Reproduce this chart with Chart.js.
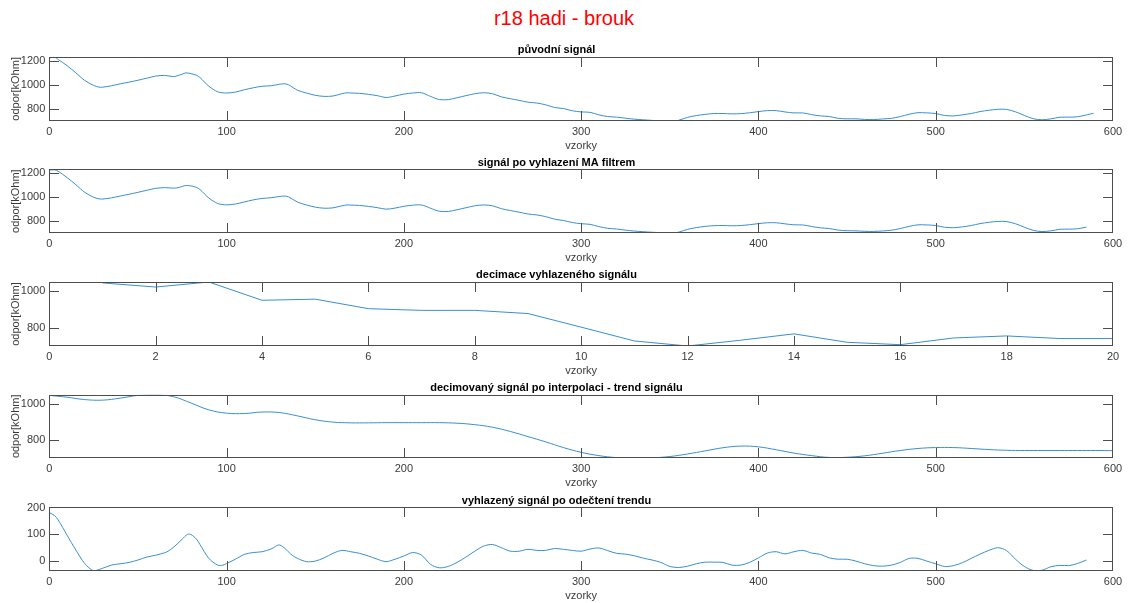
<!DOCTYPE html>
<html>
<head>
<meta charset="utf-8">
<title>r18 hadi - brouk</title>
<script src="https://cdn.jsdelivr.net/npm/chart.js@4.4.1/dist/chart.umd.min.js"></script>
<style>
  html, body { margin: 0; padding: 0; background: #fff; width: 1128px; height: 603px; overflow: hidden; }
  #fig { position: relative; width: 1128px; height: 603px; }
  #suptitle { position: absolute; left: 0; top: 6px; width: 1128px; text-align: center;
              font: 20px "Liberation Sans", Arial, sans-serif; color: #ff0000; line-height: 24px; }
  .ax { position: absolute; left: 0; width: 1128px; }
</style>
</head>
<body>
<div id="fig"><div id="suptitle">r18 hadi - brouk</div></div>
<script>
// ---- data -------------------------------------------------------------
// original signal (sample index / resistance in kOhm)
const rawX = [0,3,5,10,15,20,25,28,30,35,40,45,50,55,60,65,70,72,75,77,80,83,85,90,95,100,105,110,115,120,125,130,133,135,140,145,150,155,160,165,168,170,175,180,185,190,195,200,205,210,215,220,225,230,235,240,245,250,255,260,265,270,275,280,285,290,295,300,305,310,315,320,325,330,335,340,345,350,353,355,360,365,370,375,380,385,390,395,400,405,410,415,420,425,430,435,440,445,450,455,460,465,470,475,480,485,490,495,500,505,510,515,520,525,530,535,540,545,550,555,560,565,570,575,580,585,589];
const rawY = [1222,1228,1210,1159,1099,1036,995,981,980,992,1008,1022,1038,1055,1072,1078,1068,1074,1088,1099,1092,1079,1060,988,942,932,940,959,975,988,992,1005,1008,1000,955,932,913,904,907,926,934,932,929,921,910,895,907,923,932,934,904,878,877,893,910,926,934,926,900,885,871,856,849,834,812,803,785,775,772,751,737,732,723,715,710,705,701,700,701,706,730,745,755,762,762,759,761,768,778,786,786,775,767,767,753,742,737,722,718,718,713,712,717,722,737,756,769,767,762,746,742,751,762,778,789,797,796,776,746,719,710,718,731,732,735,750,764];

// signal after moving-average smoothing
const smoothX = [0,3,5,10,15,20,25,28,30,35,40,45,50,55,60,65,70,72,75,77,80,83,85,90,95,100,105,110,115,120,125,130,133,135,140,145,150,155,160,165,168,170,175,180,185,190,195,200,205,210,215,220,225,230,235,240,245,250,255,260,265,270,275,280,285,290,295,300,305,310,315,320,325,330,335,340,345,350,353,355,360,365,370,375,380,385,390,395,400,405,410,415,420,425,430,435,440,445,450,455,460,465,470,475,480,485,490,495,500,505,510,515,520,525,530,535,540,545,550,555,560,565,570,575,580,585];
const smoothY = [1222,1224,1212,1160,1100,1037,996,983,981,991,1006,1021,1037,1054,1070,1076,1072,1074,1086,1094,1090,1078,1060,990,944,933,940,957,974,986,992,1003,1006,999,956,932,914,905,908,925,932,931,928,920,910,897,906,921,930,932,905,880,878,892,909,925,932,925,901,886,872,857,849,835,814,803,786,776,771,752,738,732,723,715,710,705,702,700,701,706,729,744,754,760,761,759,761,768,777,784,784,775,767,766,753,742,736,723,718,717,713,712,716,722,736,754,767,766,761,747,743,750,761,777,788,795,794,776,747,721,711,717,730,731,734,748];

// decimated smoothed signal
const decX = [1,2,3,4,5,6,7,8,9,10,11,12,13,14,15,16,17,18,19,20];
const decY = [1042,1020,1047,949,955,904,895,895,878,805,731,704,735,769,724,711,747,758,744,744];

// interpolated decimated signal (trend)
const trendX = [0,10,20,30,40,50,60,70,80,90,100,110,120,130,140,150,160,170,180,190,200,210,220,230,240,250,260,270,280,290,300,310,320,330,340,350,360,370,380,390,400,410,420,430,440,450,460,470,480,490,500,510,520,530,540,550,560,570,580,590,600];
const trendY = [1045,1035,1022,1019,1030,1045,1049,1038,1003,966,948,946,954,951,933,912,899,895,895,896,896,896,896,893,885,871,848,820,791,760,734,716,705,703,704,711,725,742,759,768,764,748,730,716,706,707,715,729,744,755,760,760,755,749,745,744,744,744,744,744,743];

// smoothed signal with the trend subtracted
const detX = [0,3,5,10,15,20,25,30,35,40,45,50,55,60,65,67,70,75,78,80,83,85,90,95,98,100,105,110,115,120,125,130,137,140,145,150,155,160,165,170,175,180,185,190,195,200,205,210,215,220,225,230,235,240,245,250,255,260,265,270,275,280,285,290,295,300,305,310,315,320,325,330,335,340,345,350,355,360,365,370,375,380,385,390,395,400,405,410,415,420,425,430,435,440,445,450,455,460,465,470,475,480,485,490,495,500,505,510,515,520,525,530,535,540,545,550,555,560,565,570,575,580,585];
const detY = [181,170,154,97,41,-9,-36,-27,-15,-10,-5,4,15,22,31,37,51,82,100,99,82,62,10,-15,-15,-9,7,25,32,35,45,60,22,10,-2,0,12,29,40,35,29,19,7,-2,7,19,32,22,-12,-25,-20,-5,15,37,56,62,50,37,37,44,40,40,47,44,40,37,45,49,39,29,26,20,11,4,-5,-20,-24,-19,-10,-4,-4,-5,-15,-15,-5,12,30,35,27,35,40,30,25,12,7,7,0,-10,-17,-19,-15,-5,10,10,0,-10,-20,-17,-6,10,26,40,50,39,7,-20,-35,-34,-21,-16,-17,-9,4];

// axis ticks
const sampleTicks = [0,100,200,300,400,500,600];
const decTicks = [0,2,4,6,8,10,12,14,16,18,20];
const resistanceTicks = [800,1000,1200];
const trendTicks = [800,1000];
const detrendTicks = [0,100,200];

// ---- layout & style ---------------------------------------------------
const FONT = '"Liberation Sans", Arial, sans-serif';
const PLOT_LEFT = 49.3, PLOT_RIGHT = 1113;
const FIRST_TOP = 56.7, PITCH = 112.65, PLOT_H = 63.8;
const TITLE_SPACE = 20, XAXIS_SPACE = 32, TICK_LEN = 9.5;
const TITLE_LINE = 13.2;
const LINE_COLOR = '#3a8fd0';
const AXIS_COLOR = '#4d4d4d';
const TICK_TEXT = '#3a3a3a';

// MATLAB-style box with inward ticks on all four sides
const boxTicks = {
  id: 'boxTicks',
  afterDraw(chart) {
    const { ctx, chartArea: a, scales } = chart;
    const L = Math.round(a.left) + 0.5, R = Math.round(a.right) - 0.5;
    const T = Math.round(a.top) + 0.5, B = Math.round(a.bottom) - 0.5;
    ctx.save();
    ctx.strokeStyle = AXIS_COLOR;
    ctx.lineWidth = 1;
    ctx.beginPath();
    scales.x.ticks.forEach(t => {
      const px = Math.round(scales.x.getPixelForValue(t.value)) + 0.5;
      if (px <= L + 1 || px >= R - 1) return;
      ctx.moveTo(px, B); ctx.lineTo(px, B - TICK_LEN);
      ctx.moveTo(px, T); ctx.lineTo(px, T + TICK_LEN);
    });
    scales.y.ticks.forEach(t => {
      const py = Math.round(scales.y.getPixelForValue(t.value)) + 0.5;
      if (py <= T + 1 || py >= B - 1) return;
      ctx.moveTo(L, py); ctx.lineTo(L + TICK_LEN, py);
      ctx.moveTo(R, py); ctx.lineTo(R - TICK_LEN, py);
    });
    ctx.stroke();
    ctx.strokeRect(L, T, R - L, B - T);
    ctx.restore();
  }
};

const fig = document.getElementById('fig');

function subplot(idx, cfg) {
  const top = FIRST_TOP + idx * PITCH;
  // keep the canvas on whole pixels; the fractional part goes into the title block
  const divTop = Math.floor(top - TITLE_SPACE);
  const headBlock = top - divTop;
  const div = document.createElement('div');
  div.className = 'ax';
  div.style.top = divTop + 'px';
  div.style.height = Math.round(headBlock + PLOT_H + XAXIS_SPACE) + 'px';
  const cv = document.createElement('canvas');
  div.appendChild(cv);
  fig.appendChild(div);

  new Chart(cv, {
    type: 'line',
    data: {
      datasets: [{
        data: cfg.x.map((x, i) => ({ x, y: cfg.y[i] })),
        borderColor: LINE_COLOR,
        borderWidth: 1,
        pointRadius: 0,
        tension: cfg.tension,
        fill: false
      }]
    },
    options: {
      responsive: true,
      maintainAspectRatio: false,
      animation: false,
      events: [],
      layout: { padding: { left: 0, right: 1128 - PLOT_RIGHT, top: 0, bottom: 0 } },
      plugins: {
        legend: { display: false },
        tooltip: { enabled: false },
        title: {
          display: true,
          text: cfg.title,
          color: '#000',
          font: { family: FONT, size: 11, weight: 'bold', lineHeight: 1.2 },
          padding: { top: headBlock - TITLE_LINE - 0.1, bottom: 0.1 }
        }
      },
      scales: {
        x: {
          type: 'linear',
          min: cfg.xmin,
          max: cfg.xmax,
          afterBuildTicks: s => { s.ticks = cfg.xticks.map(v => ({ value: v })); },
          afterFit: s => { s.height = XAXIS_SPACE; },
          grid: { display: false, drawTicks: false },
          border: { display: false },
          ticks: {
            color: TICK_TEXT, font: { family: FONT, size: 11 }, padding: 4,
            maxRotation: 0, autoSkip: false, callback: v => String(v)
          },
          title: {
            display: true, text: 'vzorky', color: TICK_TEXT,
            font: { family: FONT, size: 11 }, padding: { top: 0, bottom: 0 }
          }
        },
        y: {
          type: 'linear',
          min: cfg.ymin,
          max: cfg.ymax,
          afterBuildTicks: s => { s.ticks = cfg.yticks.map(v => ({ value: v })); },
          afterFit: s => { s.width = PLOT_LEFT; },
          grid: { display: false, drawTicks: false },
          border: { display: false },
          ticks: {
            color: TICK_TEXT, font: { family: FONT, size: 11 }, padding: 4,
            autoSkip: false, callback: v => String(v)
          },
          title: {
            display: !!cfg.ylabel, text: cfg.ylabel || '', color: TICK_TEXT,
            font: { family: FONT, size: 11 }, padding: { top: 9, bottom: 0 }
          }
        }
      }
    },
    plugins: [boxTicks]
  });
}

subplot(0, { title: 'původní signál', x: rawX, y: rawY, tension: 0.3,
  xmin: 0, xmax: 600, xticks: sampleTicks, ymin: 700, ymax: 1233, yticks: resistanceTicks, ylabel: 'odpor[kOhm]' });
subplot(1, { title: 'signál po vyhlazení MA filtrem', x: smoothX, y: smoothY, tension: 0.3,
  xmin: 0, xmax: 600, xticks: sampleTicks, ymin: 699, ymax: 1228, yticks: resistanceTicks, ylabel: 'odpor[kOhm]' });
subplot(2, { title: 'decimace vyhlazeného signálu', x: decX, y: decY, tension: 0,
  xmin: 0, xmax: 20, xticks: decTicks, ymin: 704, ymax: 1047, yticks: trendTicks, ylabel: 'odpor[kOhm]' });
subplot(3, { title: 'decimovaný signál po interpolaci - trend signálu', x: trendX, y: trendY, tension: 0.4,
  xmin: 0, xmax: 600, xticks: sampleTicks, ymin: 703, ymax: 1049, yticks: trendTicks, ylabel: 'odpor[kOhm]' });
subplot(4, { title: 'vyhlazený signál po odečtení trendu', x: detX, y: detY, tension: 0.3,
  xmin: 0, xmax: 600, xticks: sampleTicks, ymin: -37, ymax: 201, yticks: detrendTicks, ylabel: '' });
</script>
</body>
</html>
